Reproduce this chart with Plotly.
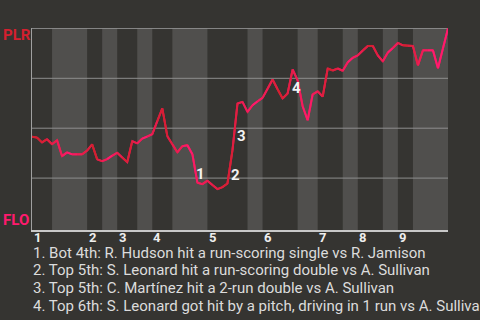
import plotly.graph_objects as go

# ---- data -------------------------------------------------------------
teams = ["PLR", "FLO"]
# win probability for PLR after each plate appearance (event index 0..83)
wp = [0.457, 0.453, 0.429, 0.445, 0.42, 0.44, 0.36, 0.379, 0.369, 0.369,
      0.369, 0.388, 0.419, 0.344, 0.335, 0.345, 0.363, 0.377, 0.353, 0.33,
      0.435, 0.424, 0.448, 0.458, 0.47, 0.535, 0.599, 0.46, 0.42, 0.379,
      0.41, 0.415, 0.37, 0.227, 0.22, 0.237, 0.215, 0.195, 0.205, 0.223,
      0.39, 0.624, 0.632, 0.582, 0.615, 0.635, 0.652, 0.698, 0.744, 0.695,
      0.649, 0.674, 0.794, 0.74, 0.61, 0.54, 0.67, 0.685, 0.658, 0.799,
      0.789, 0.799, 0.788, 0.83, 0.853, 0.865, 0.89, 0.912, 0.912, 0.865,
      0.835, 0.879, 0.902, 0.927, 0.915, 0.913, 0.912, 0.815, 0.89, 0.89,
      0.89, 0.80, 0.90, 1.0]
# event index where each half inning starts/ends (top1, bot1, top2, ...)
half_bounds = [0, 4, 11, 14, 17, 21, 24, 28, 35, 43, 46, 53, 57, 62, 65, 70, 73, 76, 83]
inning_labels = ["1", "2", "3", "4", "5", "6", "7", "8", "9"]
# key plays
event_idx = [33, 40, 41, 52]
event_marks = ["1", "2", "3", "4"]
event_text = [
    "1. Bot 4th: R. Hudson hit a run-scoring single vs R. Jamison",
    "2. Top 5th: S. Leonard hit a run-scoring double vs A. Sullivan",
    "3. Top 5th: C. Martínez hit a 2-run double vs A. Sullivan",
    "4. Top 6th: S. Leonard got hit by a pitch, driving in 1 run vs A. Sullivan",
]
gridvals = [0.25, 0.5, 0.75, 1.0]

# ---- style --------------------------------------------------------------
BG = "#353431"
BAND = "#504f4d"
RED = (212, 32, 47)
PINK = (255, 26, 110)
FONT = "Roboto"


def hexc(c):
    return "#%02x%02x%02x" % tuple(int(round(v)) for v in c)


def mix(a, b, t):
    return tuple(a[k] + (b[k] - a[k]) * t for k in range(3))


centers = [(half_bounds[j] + half_bounds[j + 1]) / 2 for j in range(len(half_bounds) - 1)]
ccols = [RED if j % 2 == 0 else PINK for j in range(len(centers))]


def seg_color(m):
    if m <= centers[0]:
        return ccols[0]
    if m >= centers[-1]:
        return ccols[-1]
    for j in range(len(centers) - 1):
        if centers[j] <= m <= centers[j + 1]:
            t = (m - centers[j]) / (centers[j + 1] - centers[j])
            return mix(ccols[j], ccols[j + 1], t)
    return ccols[-1]


fig = go.Figure()
xs = list(range(len(wp)))
# underlay
fig.add_trace(go.Scatter(x=xs, y=wp, mode="lines",
                         line=dict(color=hexc(mix(RED, PINK, 0.5)), width=2),
                         hoverinfo="skip", showlegend=False))
for k in range(len(wp) - 1):
    fig.add_trace(go.Scatter(x=[xs[k], xs[k + 1]], y=[wp[k], wp[k + 1]], mode="lines",
                             line=dict(color=hexc(seg_color(k + 0.5)), width=2),
                             hoverinfo="skip", showlegend=False))

shapes = []
for j in range(len(half_bounds) - 1):
    if j % 2 == 1:
        shapes.append(dict(type="rect", xref="x", yref="paper",
                           x0=half_bounds[j], x1=half_bounds[j + 1], y0=0, y1=1,
                           fillcolor=BAND, line=dict(width=0), layer="below"))
for g in gridvals:
    shapes.append(dict(type="line", xref="paper", yref="y", x0=0, x1=1, y0=g, y1=g,
                       line=dict(color="#8e8e8e", width=1), layer="below"))

ann = []
ann.append(dict(text=teams[0], xref="paper", yref="paper", x=0, y=(230 - 34.5) / 202,
                xanchor="left", yanchor="middle", xshift=-31, showarrow=False,
                font=dict(family=FONT, size=15, color=hexc(RED), weight="bold")))
ann.append(dict(text=teams[1], xref="paper", yref="paper", x=0, y=(230 - 219.5) / 202,
                xanchor="left", yanchor="middle", xshift=-31, showarrow=False,
                font=dict(family=FONT, size=15, color=hexc(PINK), weight="bold")))
for n, lab in enumerate(inning_labels):
    ann.append(dict(text=lab, xref="x", yref="paper", x=half_bounds[2 * n], y=0,
                    xanchor="center", yanchor="middle", xshift=5, yshift=-7.5,
                    showarrow=False,
                    font=dict(family=FONT, size=13, color="#eeeeee", weight="bold")))
ev_shift = [(2.6, 8.7), (3.5, -24.8), (4.5, -32.2), (3.4, -18.2)]
for n, (i, lab) in enumerate(zip(event_idx, event_marks)):
    ann.append(dict(text=lab, xref="x", yref="y", x=i, y=wp[i],
                    xanchor="center", yanchor="middle",
                    xshift=ev_shift[n][0], yshift=ev_shift[n][1], showarrow=False,
                    font=dict(family=FONT, size=15, color="#f2f2f2", weight="bold")))
for n, t in enumerate(event_text):
    ann.append(dict(text=t, xref="paper", yref="paper", x=0, y=0,
                    xanchor="left", yanchor="middle", xshift=-1,
                    yshift=-(22.5 + 17.8 * n), showarrow=False,
                    font=dict(family=FONT, size=15, color="#dcdcdc")))

fig.update_layout(
    width=480, height=320,
    margin=dict(l=32, r=32, t=28, b=90, pad=0),
    paper_bgcolor=BG, plot_bgcolor=BG,
    showlegend=False,
    shapes=shapes, annotations=ann,
    xaxis=dict(range=[0, len(wp) - 1], showgrid=False, zeroline=False,
               showline=True, linecolor="#c8c8c8", linewidth=1.5,
               showticklabels=False, ticks="", fixedrange=True),
    yaxis=dict(range=[-0.01, 1.002], showgrid=False, zeroline=False,
               showline=True, linecolor="#a0a0a0", linewidth=1,
               showticklabels=False, ticks="", fixedrange=True),
)

fig.write_html("out.html", config={"displayModeBar": False})
